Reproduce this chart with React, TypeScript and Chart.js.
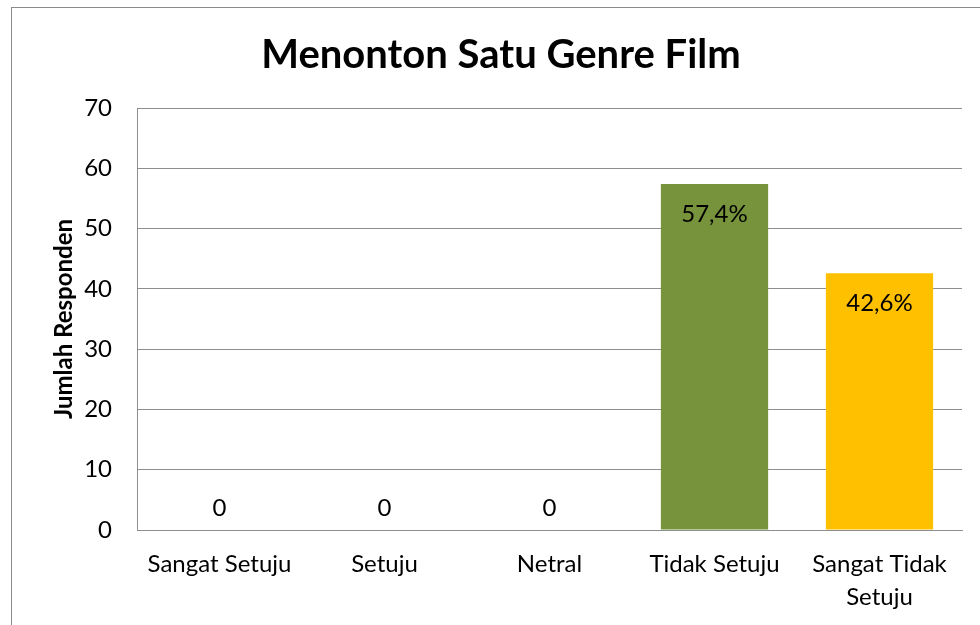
import React, { useEffect, useRef } from "react";
import { Chart, registerables } from "chart.js";

Chart.register(...registerables);

const categories: (string | string[])[] = [
  "Sangat Setuju",
  "Setuju",
  "Netral",
  "Tidak Setuju",
  ["Sangat Tidak", "Setuju"],
];
const values = [0, 0, 0, 57.4, 42.6];
const barColors = ["#77933C", "#77933C", "#77933C", "#77933C", "#FFC000"];
const yTicks = { min: 0, max: 70, step: 10 };
const titleText = "Menonton Satu Genre Film";
const yTitle = "Jumlah Responden";

const FONT = "Lato";

const labelPlugin = {
  id: "barLabels",
  afterDatasetsDraw(chart: any) {
    const ctx = chart.ctx;
    const meta = chart.getDatasetMeta(0);
    ctx.save();
    ctx.font = `24px ${FONT}`;
    ctx.fillStyle = "#000";
    ctx.textAlign = "center";
    ctx.textBaseline = "middle";
    meta.data.forEach((el: any, i: number) => {
      const v = values[i];
      if (v === 0) {
        ctx.fillText("0", el.x, el.base - 22);
      } else {
        const txt = v.toFixed(1).replace(".", ",") + "%";
        ctx.fillText(txt, el.x, el.y + 30);
      }
    });
    ctx.restore();
  },
};

export default function App() {
  const ref = useRef<HTMLCanvasElement | null>(null);
  useEffect(() => {
    if (!ref.current) return;
    const chart = new Chart(ref.current, {
      type: "bar",
      data: {
        labels: categories as any,
        datasets: [
          {
            data: values,
            backgroundColor: barColors,
            barPercentage: 0.65,
            categoryPercentage: 1,
          },
        ],
      },
      options: {
        responsive: false,
        animation: false,
        layout: { padding: { left: 40, right: 18, top: 0, bottom: 0 } },
        plugins: {
          legend: { display: false },
          tooltip: { enabled: false },
          title: {
            display: true,
            text: titleText,
            color: "#000",
            font: { family: FONT, size: 40, weight: "bold", lineHeight: 1.2 },
            padding: { top: 31, bottom: 29 },
          },
        },
        scales: {
          x: {
            grid: { display: false, drawTicks: false },
            border: { display: true, color: "#8e8e8e", width: 1 },
            ticks: {
              color: "#000",
              font: { family: FONT, size: 24, lineHeight: 1.375 },
              padding: 18,
              maxRotation: 0,
              autoSkip: false,
            },
            afterFit: (s: any) => {
              s.height = 95;
            },
          },
          y: {
            min: yTicks.min,
            max: yTicks.max,
            grid: { color: "#8e8e8e", lineWidth: 1, drawTicks: false },
            border: { display: true, color: "#8e8e8e", width: 1 },
            ticks: {
              stepSize: yTicks.step,
              color: "#000",
              font: { family: FONT, size: 24 },
              padding: 25,
            },
            title: {
              display: true,
              text: yTitle,
              color: "#000",
              font: { family: FONT, size: 24, weight: "bold", lineHeight: 1.2 },
              padding: { top: 10, bottom: 0 },
            },
            afterFit: (s: any) => {
              s.width = 97;
            },
          },
        },
      },
      plugins: [labelPlugin],
    });
    return () => chart.destroy();
  }, []);

  return (
    <div
      style={{
        position: "absolute",
        left: 0,
        top: 0,
        width: 980,
        height: 625,
        overflow: "hidden",
        background: "#fff",
      }}
    >
      <div
        style={{
          position: "absolute",
          left: 11,
          top: 7,
          width: 1200,
          height: 1200,
          border: "1.5px solid #8a8a8a",
        }}
      />
      <canvas
        ref={ref}
        width={980}
        height={625}
        style={{ position: "absolute", left: 0, top: 0 }}
      />
    </div>
  );
}
